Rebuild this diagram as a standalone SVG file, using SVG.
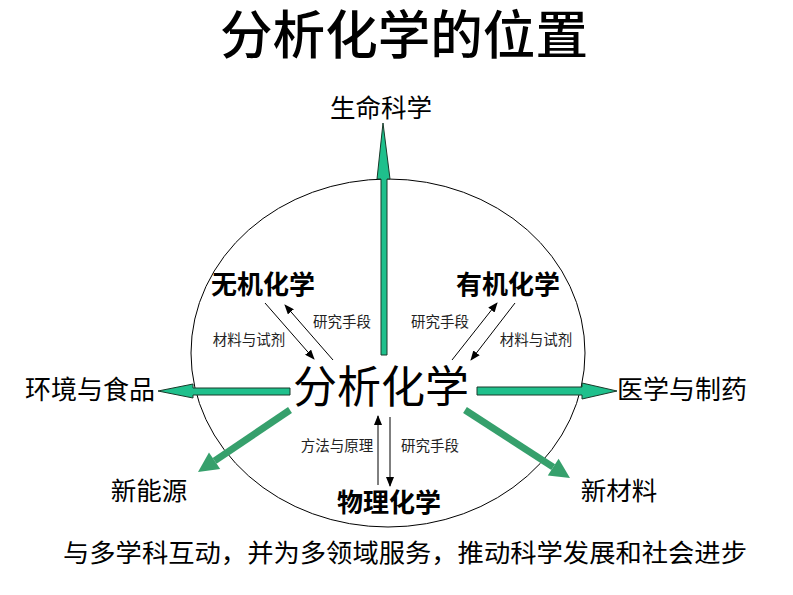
<svg xmlns="http://www.w3.org/2000/svg" width="793" height="595" viewBox="0 0 793 595">
<defs>
<marker id="ah" markerUnits="userSpaceOnUse" markerWidth="10" markerHeight="8" refX="9" refY="4" orient="auto">
<path d="M0,0 L10,4 L0,8 Z" fill="#000"/>
</marker>
</defs>
<style>
text{font-family:"Noto Sans CJK SC","Noto Sans CJK JP",sans-serif;fill:#000;text-anchor:middle}
.small{font-size:14.5px;fill:#222}
.mid{font-size:25.5px}
.bold{font-size:26px;font-weight:bold}
.thin{stroke:#000;stroke-width:1;marker-end:url(#ah);fill:none}
.block{fill:#1fc08c;stroke:#1a3a2a;stroke-width:1}
.diag{stroke:#36a06c;stroke-width:7;fill:none}
.diagh{fill:#36a06c}
</style>
<rect width="793" height="595" fill="#fff"/>
<g id="title">
<text x="404" y="54" font-size="52" font-weight="500" textLength="368" lengthAdjust="spacingAndGlyphs">分析化学的位置</text>
</g>
<g id="circle">
<ellipse cx="388" cy="353" rx="197" ry="174" fill="none" stroke="#000" stroke-width="1"/>
</g>
<g id="connectors">
<path class="block" d="M381,355 L381,179 L377,179 L383,123 L390,179 L387,179 L387,355 Z"/>
<path class="block" d="M290,388 L193,388 L193,384 L158,391 L193,398 L193,395 L290,395 Z"/>
<path class="block" d="M477,387 L582,387 L582,383 L617,391 L582,399 L582,395 L477,395 Z"/>
<line class="diag" x1="290" y1="410" x2="214.6" y2="460.8"/>
<path class="diagh" d="M198,472 L220.2,469.1 L209,452.5 Z"/>
<line class="diag" x1="465" y1="410" x2="553.2" y2="467.1"/>
<path class="diagh" d="M570,478 L547.8,475.5 L558.6,458.7 Z"/>
<line class="thin" x1="265" y1="303" x2="314" y2="359"/>
<line class="thin" x1="333" y1="360" x2="285" y2="305"/>
<line class="thin" x1="452" y1="360" x2="497" y2="303"/>
<line class="thin" x1="515" y1="303" x2="471" y2="360"/>
<line class="thin" x1="378" y1="485" x2="378" y2="416"/>
<line class="thin" x1="390" y1="417" x2="390" y2="486"/>
</g>
<g id="center"><text x="381" y="403" font-size="44">分析化学</text></g>
<g id="life"><text class="mid" x="381" y="117">生命科学</text></g>
<g id="env"><text x="90" y="399" font-size="26">环境与食品</text></g>
<g id="med"><text x="682" y="399" font-size="26">医学与制药</text></g>
<g id="energy"><text class="mid" x="149" y="500">新能源</text></g>
<g id="material"><text class="mid" x="619" y="500">新材料</text></g>
<g id="inorganic"><text class="bold" x="263" y="294">无机化学</text></g>
<g id="organic"><text class="bold" x="508" y="294">有机化学</text></g>
<g id="physical"><text class="bold" x="389" y="512">物理化学</text></g>
<g id="labels">
<text class="small" x="342" y="327">研究手段</text>
<text class="small" x="249" y="345">材料与试剂</text>
<text class="small" x="440" y="327">研究手段</text>
<text class="small" x="536" y="345">材料与试剂</text>
<text class="small" x="337" y="451">方法与原理</text>
<text class="small" x="430" y="451">研究手段</text>
</g>
<g id="footer"><text x="405" y="562" font-size="25.5" textLength="684" lengthAdjust="spacingAndGlyphs">与多学科互动，并为多领域服务，推动科学发展和社会进步</text></g>
</svg>
